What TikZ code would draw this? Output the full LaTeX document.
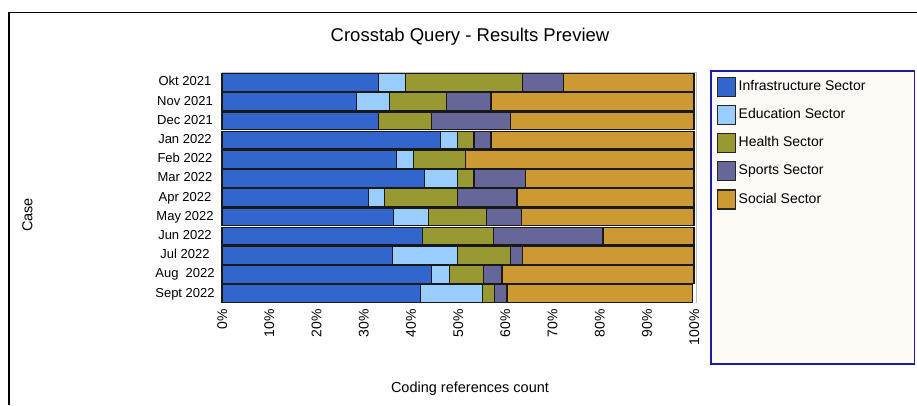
\documentclass[tikz,border=0pt]{standalone}
\usepackage{fontspec}
\setmainfont{Liberation Sans}

\definecolor{infra}{HTML}{3366CC}
\definecolor{educ}{HTML}{99CCFF}
\definecolor{health}{HTML}{999933}
\definecolor{sports}{HTML}{666699}
\definecolor{social}{HTML}{CC9933}
\definecolor{legframe}{HTML}{1E1E9C}
\definecolor{legbg}{HTML}{FDF9F4}

\tikzset{
  seg/.style={draw=black!90, line width=1.2pt},
  catlabel/.style={font=\fontsize{13}{15}\selectfont, anchor=center, inner sep=0pt,
                   text height=9.4pt, text depth=2.7pt},
  ticklabel/.style={font=\fontsize{14}{16}\selectfont, rotate=90, anchor=east, inner sep=0pt,
                    text height=10pt, text depth=0pt},
  legswatch/.style={draw=black!85, line width=1.2pt},
  legtext/.style={font=\fontsize{14}{16}\selectfont, anchor=west, inner sep=0pt,
                  text height=10.1pt, text depth=2.9pt},
  axistitle/.style={font=\fontsize{14.5}{17}\selectfont, inner sep=0pt}
}

\begin{document}
\begin{tikzpicture}[x=1pt, y=-1pt]
\useasboundingbox (0,0) rectangle (917,405);

% outer chart frame (top and left edges)
\draw[line width=1.2pt] (9,405) -- (9,12.3) -- (917,12.3);

% title
\node[font=\fontsize{18.5}{22}\selectfont, inner sep=0pt] (title) at (470,37) {Crosstab Query - Results Preview};

% plot area outline
\draw[black!25, line width=0.8pt] (222,72) -- (696,72) -- (696,303);

% stacked bars: cumulative shares in percent
\foreach \i/\lab/\a/\b/\c/\d/\e in {
  0/{Okt 2021}/33.2/38.8/63.7/72.3/100,
  1/{Nov 2021}/28.5/35.5/47.6/57.0/100,
  2/{Dec 2021}/33.2/33.2/44.4/61.1/100,
  3/{Jan 2022}/46.3/49.9/53.4/57.0/100,
  4/{Feb 2022}/37.0/40.5/51.6/51.6/100,
  5/{Mar 2022}/42.9/49.9/53.4/64.3/100,
  6/{Apr 2022}/31.1/34.4/49.9/62.5/100,
  7/{May 2022}/36.4/43.8/56.1/63.4/100,
  8/{Jun 2022}/42.4/42.4/57.6/80.7/100,
  9/{Jul 2022}/36.1/49.9/61.1/63.7/100,
  10/{Aug\ \ 2022}/44.4/48.2/55.4/59.3/100,
  11/{Sept 2022}/42.0/55.2/57.8/60.4/99.7}
{
  \pgfmathsetmacro{\top}{73.6+19.2*\i}
  \pgfmathsetmacro{\bot}{\top+17.8}
  \pgfmathsetmacro{\mid}{\top+8.9}
  \draw[seg, fill=infra]  (222,\top) rectangle (222+4.72*\a,\bot);
  \draw[seg, fill=educ]   (222+4.72*\a,\top) rectangle (222+4.72*\b,\bot);
  \draw[seg, fill=health] (222+4.72*\b,\top) rectangle (222+4.72*\c,\bot);
  \draw[seg, fill=sports] (222+4.72*\c,\top) rectangle (222+4.72*\d,\bot);
  \draw[seg, fill=social] (222+4.72*\d,\top) rectangle (222+4.72*\e,\bot);
  \node[catlabel] (cat\i) at (185,\mid) {\lab};
}

% percentage ticks
\foreach \p in {0,10,...,100}
  \node[ticklabel] (tick\p) at (222+4.72*\p,309) {\p\%};

% axis titles
\node[axistitle] (xtitle) at (470,389) {Coding references count};
\node[axistitle, rotate=90] (ytitle) at (27.5,215) {Case};

% legend
\draw[draw=legframe, line width=1.6pt, fill=legbg] (711,71) rectangle (914.5,364);
\foreach \k/\col/\txt in {0/infra/Infrastructure Sector, 1/educ/Education Sector,
                          2/health/Health Sector, 3/sports/Sports Sector, 4/social/Social Sector}
{
  \pgfmathsetmacro{\cy}{87+28.1*\k}
  \draw[legswatch, fill=\col] (717.5,\cy-9.5) rectangle (735.8,\cy+9.5);
  \node[legtext] (leg\k) at (738.5,\cy) {\txt};
}
\end{tikzpicture}
\end{document}
